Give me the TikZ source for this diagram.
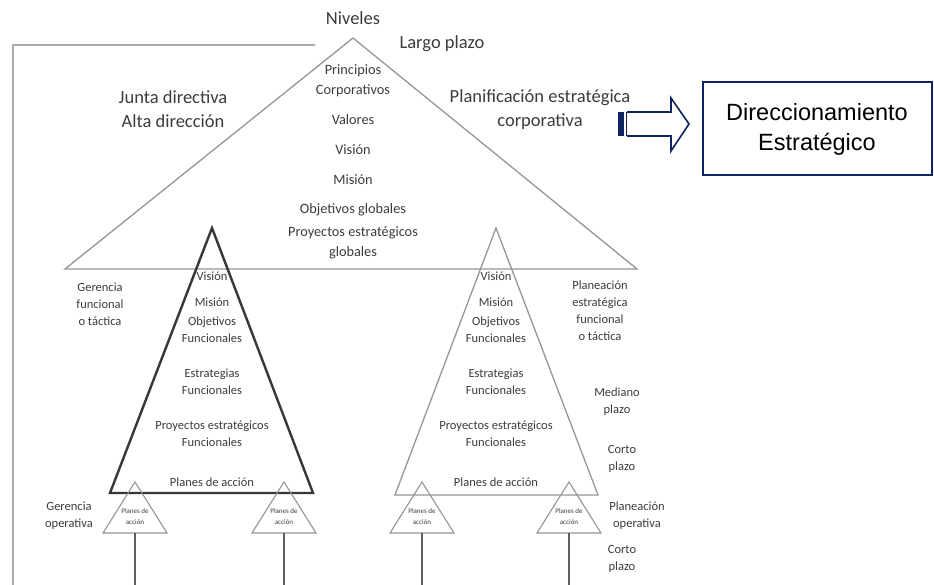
\documentclass[tikz,border=0pt]{standalone}
\usepackage{fontspec}
\setmainfont{Carlito}
\newfontfamily\boxfont{Liberation Sans}
\definecolor{txtgray}{RGB}{60,60,60}
\definecolor{lightline}{RGB}{150,150,150}
\definecolor{darkline}{RGB}{55,55,55}
\definecolor{navy}{RGB}{16,36,100}
\begin{document}
\begin{tikzpicture}[x=1pt,y=-1pt,
  lbl/.style={inner sep=0pt, text=txtgray, align=center},
  huge/.style={lbl, font=\fontsize{18.5}{24}\selectfont},
  mid/.style={lbl, font=\fontsize{14.3}{20}\selectfont},
  small/.style={lbl, font=\fontsize{12.5}{17}\selectfont},
  tiny/.style={lbl, font=\fontsize{7}{11}\selectfont},
  thinline/.style={draw=lightline, line width=1.3pt},
  frameline/.style={draw=lightline!80, line width=2pt},
  boldline/.style={draw=darkline, line width=2.4pt, line join=miter},
  stem/.style={draw=darkline!80, line width=1.2pt}]
\useasboundingbox (0,0) rectangle (934,585);
\fill[white] (0,0) rectangle (934,585);

% outer frame on the left
\coordinate (fr1) at (315,45);
\coordinate (fr2) at (13,45);
\coordinate (fr3) at (13,585);
\draw[frameline] (fr1) -- (fr2) -- (fr3);

% corporate level
\coordinate (T) at (353,38);
\coordinate (TL) at (65,269);
\coordinate (TR) at (637,269);
\draw[thinline] (TL) -- (T) -- (TR) -- cycle;

% functional level
\coordinate (A) at (212,228);
\coordinate (AL) at (110,493);
\coordinate (AR) at (313,493);
\draw[boldline] (AL) -- (A) -- (AR) -- cycle;
\coordinate (B) at (496,228);
\coordinate (BL) at (395,495);
\coordinate (BR) at (598,495);
\draw[thinline] (BL) -- (B) -- (BR) -- cycle;

% operational level
\foreach \n/\x in {1/135,2/284,3/422,4/569}{
  \coordinate (p\n) at (\x,482);
  \coordinate (pl\n) at (\x-32,533);
  \coordinate (pr\n) at (\x+32,533);
  \coordinate (pb\n) at (\x,533);
  \coordinate (pe\n) at (\x,585);
  \draw[thinline, line width=1.1pt] (pl\n) -- (p\n) -- (pr\n) -- cycle;
  \draw[stem] (pb\n) -- (pe\n);
  \node[tiny] (pt\n) at (\x,517) {Planes de\\acción};
}

% headings
\node[huge] (niv) at (353,18) {Niveles};
\node[huge] (lp) at (442,44) {Largo plazo};
\node[huge] (junta) at (173,109) {Junta directiva\\Alta dirección};
\node[huge] (plan) at (540,110) {Planificación estratégica\\corporativa};

% corporate contents
\node[mid] (c1) at (353,81) {Principios\\Corporativos};
\node[mid] (c2) at (353,120) {Valores};
\node[mid] (c3) at (353,150) {Visión};
\node[mid] (c4) at (353,180) {Misión};
\node[mid] (c5) at (353,210) {Objetivos globales};
\node[mid] (c6) at (353,243) {Proyectos estratégicos\\globales};

% functional contents
\foreach \s/\x in {L/212,R/496}{
  \node[small] (v\s) at (\x,276) {Visión};
  \node[small] (m\s) at (\x,302) {Misión};
  \node[small] (o\s) at (\x,330) {Objetivos\\Funcionales};
  \node[small] (e\s) at (\x,382) {Estrategias\\Funcionales};
  \node[small] (y\s) at (\x,434) {Proyectos estratégicos\\Funcionales};
  \node[small] (a\s) at (\x,482) {Planes de acción};
}

% side labels
\node[small] (gf) at (100,304) {Gerencia\\funcional\\o táctica};
\node[small] (go) at (69,516) {Gerencia\\operativa};
\node[small] (pf) at (600,311) {Planeación\\estratégica\\funcional\\o táctica};
\node[small] (mp) at (617,402) {Mediano\\plazo};
\node[small] (cp1) at (622,459) {Corto\\plazo};
\node[small] (po) at (637,516) {Planeación\\operativa};
\node[small] (cp2) at (622,559) {Corto\\plazo};

% striped block arrow
\fill[navy] (618,112) rectangle (624,136);
\fill[navy] (625.5,112) rectangle (627,136);
\draw[navy, line width=1.6pt, line join=miter]
  (627,112) -- (671,112) -- (671,98) -- (689,124) -- (671,151) -- (671,136) -- (627,136);

% result box
\node[draw=navy, line width=2pt, minimum width=229pt, minimum height=93pt,
      inner sep=0pt, font=\boxfont\fontsize{23.5}{30}\selectfont, align=center]
  (dir) at (817,129) {Direccionamiento\\Estratégico};
\end{tikzpicture}
\end{document}
